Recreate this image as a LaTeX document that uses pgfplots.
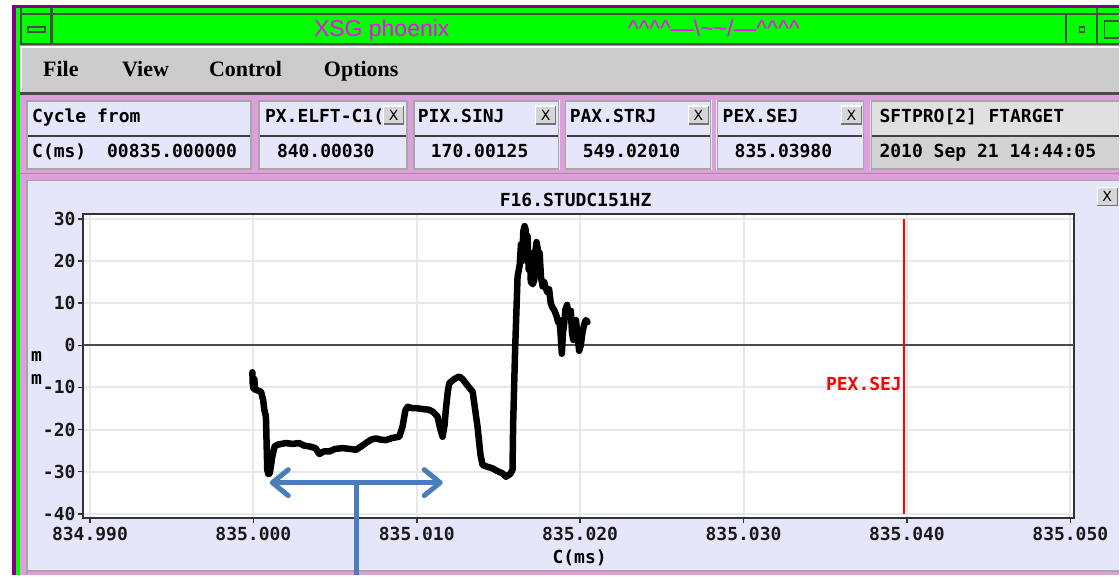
\documentclass[border=0pt]{standalone}
\usepackage{fontspec}
\usepackage{pgfplots}
\pgfplotsset{compat=1.18}
\usetikzlibrary{arrows.meta}
\newfontfamily\monob{DejaVu Sans Mono}
\newfontfamily\menuf{Liberation Serif}
\newfontfamily\titf{Liberation Sans}
\newfontfamily\dvs{DejaVu Sans}
\newcommand\mf{\monob\bfseries\fontsize{18}{20}\selectfont}
\definecolor{purp}{RGB}{128,0,128}
\definecolor{xgreen}{RGB}{0,255,0}
\definecolor{dk}{RGB}{74,74,74}
\definecolor{menugray}{RGB}{204,204,204}
\definecolor{plumc}{RGB}{221,160,221}
\definecolor{lav}{RGB}{230,230,250}
\definecolor{btop}{RGB}{224,224,224}
\definecolor{bbot}{RGB}{210,210,210}
\definecolor{bluea}{RGB}{74,126,187}
\definecolor{mag}{RGB}{255,0,255}
\definecolor{btngray}{RGB}{214,214,214}
\definecolor{teal2}{RGB}{120,160,160}
\newcommand\xbtn[2]{%
  \fill[btngray] (#1,#2) rectangle ++(20,18);
  \draw[white, line width=1.2] (#1,#2+18) -- (#1,#2) -- (#1+20,#2);
  \draw[black!55, line width=1.2] (#1+20,#2) -- (#1+20,#2+18) -- (#1,#2+18);
  \node[font=\dvs\fontsize{14}{14}\selectfont, inner sep=0] at (#1+10,#2+9) {X};
}
\pgfplotstableread{
u y
9.94 -6.4
9.96 -9.0
10.00 -10.2
10.06 -8.0
10.10 -10.5
10.47 -11.0
10.60 -13.0
10.67 -15.3
10.77 -16.9
10.81 -23.2
10.85 -29.5
10.92 -30.6
11.00 -30.4
11.10 -28.0
11.16 -26.4
11.30 -24.0
11.47 -23.6
11.98 -23.2
12.40 -23.4
12.80 -23.2
13.10 -23.8
13.43 -24.0
13.80 -24.4
14.04 -25.8
14.30 -25.2
14.65 -25.2
15.00 -24.6
15.46 -24.4
15.90 -24.6
16.28 -24.8
16.60 -24.0
16.89 -23.2
17.20 -22.4
17.50 -22.1
17.80 -22.4
18.11 -22.5
18.50 -22.0
18.93 -21.7
19.13 -19.3
19.30 -15.5
19.44 -14.6
19.70 -14.9
19.95 -14.9
20.30 -15.1
20.76 -15.3
21.00 -15.8
21.27 -16.9
21.45 -20.0
21.58 -21.7
21.70 -19.0
21.78 -15.3
21.90 -11.0
21.99 -9.0
22.30 -8.0
22.60 -7.4
22.80 -8.0
23.00 -9.0
23.20 -10.0
23.42 -11.0
23.60 -16.0
23.72 -19.3
23.90 -26.0
24.03 -28.4
24.30 -28.8
24.64 -29.2
24.90 -29.8
25.25 -30.4
25.46 -31.2
25.70 -30.6
25.86 -29.6
25.90 -18.5
25.96 -9.8
26.02 -1.1
26.17 16.3
26.30 19.0
26.38 24.0
26.45 20.0
26.52 27.0
26.60 28.3
26.66 27.5
26.72 21.0
26.78 26.0
26.85 18.0
26.92 22.0
26.98 15.1
27.10 14.5
27.19 15.5
27.25 22.0
27.33 24.5
27.40 23.0
27.46 17.0
27.52 22.0
27.60 16.3
27.70 14.0
27.80 15.0
27.90 13.5
28.00 12.5
28.10 13.3
28.20 10.0
28.30 9.0
28.41 8.4
28.55 7.0
28.65 5.5
28.72 6.0
28.80 3.0
28.88 -2.0
28.95 3.0
29.02 5.0
29.10 8.5
29.20 9.6
29.30 7.0
29.43 8.2
29.50 3.0
29.58 1.3
29.65 5.0
29.74 6.0
29.85 2.0
29.94 -1.3
30.04 0.0
30.14 3.0
30.25 5.0
30.35 6.0
30.45 5.5
}\trace
\begin{document}
\begin{tikzpicture}[x=1pt,y=1pt]
\begin{scope}[yshift=575pt, yscale=-1]
  \fill[white] (0,0) rectangle (1120,575);
  % outer purple + green frame
  \fill[purp] (12,5) rectangle (1120,8);
  \fill[purp] (12,5) rectangle (16,575);
  \fill[xgreen] (16,8) rectangle (1120,46);
  \fill[xgreen] (16,8) rectangle (20,575);
  % title bar lines
  \draw[dk, line width=1.6] (20,14) -- (1120,14);
  \draw[dk, line width=1.6] (20,44) -- (1120,44);
  \draw[dk, line width=1.6] (21,8) -- (21,44);
  \draw[dk, line width=2.2] (51.5,8) -- (51.5,44);
  \draw[dk, line width=1.6] (1067,14) -- (1067,44);
  \draw[dk, line width=1.6] (1098,8) -- (1098,44);
  \draw[dk, line width=1.4] (28,27) rectangle (45,32);
  \draw[dk, line width=1.4] (1080,27) rectangle (1085,32);
  \draw[dk, line width=1.4] (1120,21) -- (1105,21) -- (1105,38) -- (1120,38);
  \node[font=\titf\fontsize{23}{23}\selectfont, text=mag, anchor=base] at (382,37) {XSG phoenix};
  \node[font=\titf\fontsize{23}{23}\selectfont, text=mag, anchor=base west, inner sep=0] at (628,37)
    {\textasciicircum\textasciicircum\textasciicircum\textasciicircum—\textbackslash\textasciitilde\textasciitilde/—\textasciicircum\textasciicircum\textasciicircum\textasciicircum};
  % menu bar
  \fill[white] (20,46) rectangle (1120,48);
  \fill[menugray] (22,48) rectangle (1120,92);
  \fill[dk] (20,92) rectangle (1120,95);
  \foreach \t/\xx in {File/43,View/122,Control/209,Options/324}
    \node[font=\menuf\bfseries\fontsize{22}{22}\selectfont, anchor=base west, inner sep=0] at (\xx,77) {\t};
  % pink band
  \fill[plumc] (20,95) rectangle (1120,575);
  \draw[teal2, line width=1.2] (20,173.5) -- (1120,173.5);
  % info boxes
  \foreach \a/\b in {26/252,258/408,413/560,565/712,717/865}{
    \fill[lav] (\a,100) rectangle (\b,170);
    \draw[black!35, line width=1.6] (\a+1,101) rectangle (\b-1,169);
    \draw[black!75, line width=1.6] (\a+2,136) -- (\b-2,136);
  }
  \fill[btop] (871,100) rectangle (1120,136);
  \fill[bbot] (871,136) rectangle (1120,170);
  \draw[black!35, line width=1.6] (872,101) -- (872,169) -- (1120,169);
  \draw[black!35, line width=1.6] (872,101) -- (1120,101);
  \draw[black!75, line width=1.6] (873,136) -- (1120,136);
  \node[font=\mf, anchor=base west, inner sep=0] at (32,123) {Cycle from};
  \node[font=\mf, anchor=base west, inner sep=0] at (32,158) {C(ms)};
  \node[font=\mf, anchor=base west, inner sep=0] at (107,158) {00835.000000};
  \node[font=\mf, anchor=base west, inner sep=0] at (265,123) {PX.ELFT-C1(};
  \node[font=\mf, anchor=base west, inner sep=0] at (277,158) {840.00030};
  \node[font=\mf, anchor=base west, inner sep=0] at (418,123) {PIX.SINJ};
  \node[font=\mf, anchor=base west, inner sep=0] at (431,158) {170.00125};
  \node[font=\mf, anchor=base west, inner sep=0] at (570,123) {PAX.STRJ};
  \node[font=\mf, anchor=base west, inner sep=0] at (583,158) {549.02010};
  \node[font=\mf, anchor=base west, inner sep=0] at (723,123) {PEX.SEJ};
  \node[font=\mf, anchor=base west, inner sep=0] at (735,158) {835.03980};
  \node[font=\mf, anchor=base west, inner sep=0] at (880,123) {SFTPRO[2]};
  \node[font=\mf, anchor=base west, inner sep=0] at (989,123) {FTARGET};
  \node[font=\mf, anchor=base west, inner sep=0] at (880,158) {2010 Sep 21 14:44:05};
  \xbtn{384}{106}
  \xbtn{536}{106}
  \xbtn{689}{106}
  \xbtn{842}{106}
  % chart panel
  \fill[lav] (26,180) rectangle (1120,572);
  \draw[black!35, line width=1.6] (26.8,575) -- (26.8,180.8) -- (1120,180.8);
  \draw[black!35, line width=1.6] (26,571.5) -- (1120,571.5);
  \xbtn{1098}{188}
  \node[font=\mf, anchor=base, inner sep=0] at (576,207) {F16.STUDC151HZ};
  \node[font=\mf, anchor=base, inner sep=0] at (580,564) {C(ms)};
  \node[font=\mf, anchor=base west, inner sep=0] at (31,362) {m};
  \node[font=\mf, anchor=base west, inner sep=0] at (31,385) {m};
\end{scope}
\begin{axis}[
  at={(83pt,57pt)}, anchor=south west,
  scale only axis, width=992pt, height=304pt,
  xmin=-0.43, xmax=60.24, ymin=-40.9, ymax=31.2,
  axis background/.style={fill=white},
  xtick={0,10,20,30,40,50,60},
  xticklabels={834.990,835.000,835.010,835.020,835.030,835.040,835.050},
  ytick={-40,-30,-20,-10,0,10,20,30},
  yticklabels={-40,-30,-20,-10,0,10,20,30},
  xtick pos=left, ytick pos=left,
  tick align=outside, major tick length=5pt,
  tick style={line width=1.5pt, black!80},
  axis line style={line width=2pt, black!80},
  grid=major, major grid style={line width=2pt, black!9},
  tick label style={font=\mf, text=black!90},
  yticklabel style={xshift=1pt},
  xticklabel style={yshift=-1pt},
]
\addplot[black!70, line width=2pt, forget plot] coordinates {(-0.43,0) (60.24,0)};
\addplot[red, line width=2pt] coordinates {(49.8,30) (49.8,-40)};
\addplot[black, line width=6.5pt, line join=round, line cap=round] table[x=u, y=y] {\trace};
\node[font=\mf, text=red, anchor=base east, inner sep=0] at (axis cs:49.7,-10.7) {PEX.SEJ};
\end{axis}
\begin{scope}[yshift=575pt, yscale=-1]
  \draw[bluea, line width=5, {Straight Barb[length=16pt, width=26pt, round]}-{Straight Barb[length=16pt, width=26pt, round]}] (270,483) -- (443,483);
  \draw[bluea, line width=5] (357,483) -- (357,575);
\end{scope}
\end{tikzpicture}
\end{document}
